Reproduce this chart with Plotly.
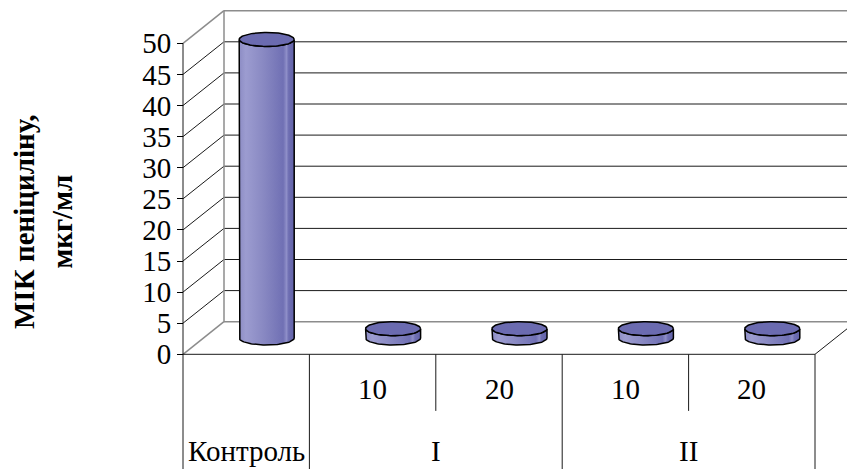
import numpy as np
import plotly.graph_objects as go

# ---------------- data ----------------
GROUP_LABELS = ["Контроль", "I", "II"]
GROUP_OF_CATEGORY = [0, 1, 1, 2, 2]
SUB_LABELS = ["", "10", "20", "10", "20"]
MIC_VALUES = [48, 1.5, 1.5, 1.5, 1.5]
Y_TICKS = [0, 5, 10, 15, 20, 25, 30, 35, 40, 45, 50]
Y_TITLE = "<b>МІК пеніциліну,<br>мкг/мл</b>"

# ---------------- geometry (pixels -> axis units) ----------------
W, H = 847, 469
AXIS_PX, ZERO_PX = 183, 354.3
PX_PER_CAT, PX_PER_UNIT = 126.4, 6.22
L_MARGIN = 150
X_MIN = (L_MARGIN - AXIS_PX) / PX_PER_CAT
X_MAX = (W - AXIS_PX) / PX_PER_CAT
Y_MAX = ZERO_PX / PX_PER_UNIT
Y_MIN = -(H - ZERO_PX) / PX_PER_UNIT
DX = 41 / PX_PER_CAT          # depth offset along x
DY = 32.6 / PX_PER_UNIT       # depth offset along y
RX = 27.5 / PX_PER_CAT        # cylinder half width
RY = 7 / PX_PER_UNIT          # ellipse half height
N = len(MIC_VALUES)
Y_TOP = max(Y_TICKS)
SHORT_DIV = -9.1
SUB_Y = -5.6
GROUP_Y = -15.6

FONT = "Liberation Serif, Times New Roman, serif"

fig = go.Figure()


def seg_trace(segments, color, width):
    xs, ys = [], []
    for (x0, y0), (x1, y1) in segments:
        xs += [x0, x1, None]
        ys += [y0, y1, None]
    return go.Scatter(x=xs, y=ys, mode="lines", line=dict(color=color, width=width),
                      hoverinfo="skip", showlegend=False)


# gridlines on the side and back walls
grid = []
for v in Y_TICKS[1:-1]:
    grid.append(((0, v), (DX, v + DY)))
    grid.append(((DX, v + DY), (X_MAX, v + DY)))
fig.add_trace(seg_trace(grid, "#1a1a1a", 1))

# wall / floor edges
edges = [
    ((0, Y_TOP), (DX, Y_TOP + DY)),
    ((DX, Y_TOP + DY), (X_MAX, Y_TOP + DY)),
    ((DX, DY), (DX, Y_TOP + DY)),
    ((0, 0), (DX, DY)),
    ((DX, DY), (X_MAX, DY)),
]
fig.add_trace(seg_trace(edges, "#8c8c8c", 1.5))

# front floor edge, right floor edge, value axis, category table
table = [
    ((0, 0), (N, 0)),
    ((N, 0), (N + DX, DY)),
    ((0, Y_MIN), (0, Y_TOP)),
]
for k in range(1, N + 1):
    if k == N or GROUP_OF_CATEGORY[k] != GROUP_OF_CATEGORY[k - 1]:
        table.append(((k, Y_MIN), (k, 0)))
    else:
        table.append(((k, SHORT_DIV), (k, 0)))
fig.add_trace(seg_trace(table, "#1a1a1a", 1))

# cylinders
side_scale = [[0.0, "#8c8cc4"], [0.12, "#9c9cd0"], [0.45, "#8888c2"],
              [0.8, "#7070b4"], [0.86, "#8e8ec8"], [0.9, "#6e6eb2"], [1.0, "#6262a8"]]
for i, v in enumerate(MIC_VALUES):
    cx = i + 0.5 + DX / 2
    b = DY / 2
    t = b + v
    th_low = np.linspace(np.pi, 2 * np.pi, 60)
    th_up = np.linspace(2 * np.pi, np.pi, 60)
    bx = list(cx + RX * np.cos(th_low))
    by = list(b + RY * np.sin(th_low))
    tx = list(cx + RX * np.cos(th_up))
    ty = list(t + RY * np.sin(th_up))
    xs = [cx - RX] + bx + [cx + RX] + tx
    ys = [t] + by + [t] + ty
    fig.add_trace(go.Scatter(
        x=xs, y=ys, mode="lines", fill="toself",
        fillgradient=dict(type="horizontal", colorscale=side_scale),
        line=dict(color="black", width=1.5), hoverinfo="skip", showlegend=False))
    th = np.linspace(0, 2 * np.pi, 100)
    fig.add_trace(go.Scatter(
        x=cx + RX * np.cos(th), y=t + RY * np.sin(th), mode="lines", fill="toself",
        fillcolor="#6b6bb0", line=dict(color="black", width=1.5),
        hoverinfo="skip", showlegend=False))

# category labels
annotations = []
for i, lab in enumerate(SUB_LABELS):
    if lab:
        annotations.append(dict(x=i + 0.5, y=SUB_Y, text=lab, showarrow=False,
                                font=dict(family=FONT, size=29, color="black"),
                                xanchor="center", yanchor="middle"))
for g, lab in enumerate(GROUP_LABELS):
    members = [i for i, gg in enumerate(GROUP_OF_CATEGORY) if gg == g]
    xc = (min(members) + max(members) + 1) / 2
    annotations.append(dict(x=xc, y=GROUP_Y, text=lab, showarrow=False,
                            font=dict(family=FONT, size=29, color="black"),
                            xanchor="center", yanchor="middle"))
plot_w = W - L_MARGIN
annotations.append(dict(xref="paper", yref="paper",
                        x=(43 - L_MARGIN) / plot_w, y=1 - 222 / H,
                        text=Y_TITLE, showarrow=False, textangle=-90,
                        font=dict(family=FONT, size=29, color="black"),
                        xanchor="center", yanchor="middle"))

fig.update_layout(
    width=W, height=H,
    margin=dict(l=L_MARGIN, r=0, t=0, b=0),
    plot_bgcolor="white", paper_bgcolor="white",
    showlegend=False,
    font=dict(family=FONT),
    annotations=annotations,
    xaxis=dict(range=[X_MIN, X_MAX], visible=False, fixedrange=True),
    yaxis=dict(range=[Y_MIN, Y_MAX], anchor="free",
               position=(AXIS_PX - L_MARGIN) / plot_w,
               tickvals=Y_TICKS, ticktext=[str(v) for v in Y_TICKS],
               ticks="outside", ticklen=6, tickcolor="black", tickwidth=1,
               showgrid=False, zeroline=False, showline=False,
               tickfont=dict(family=FONT, size=29, color="black"),
               fixedrange=True),
)

fig.write_html("out.html")
